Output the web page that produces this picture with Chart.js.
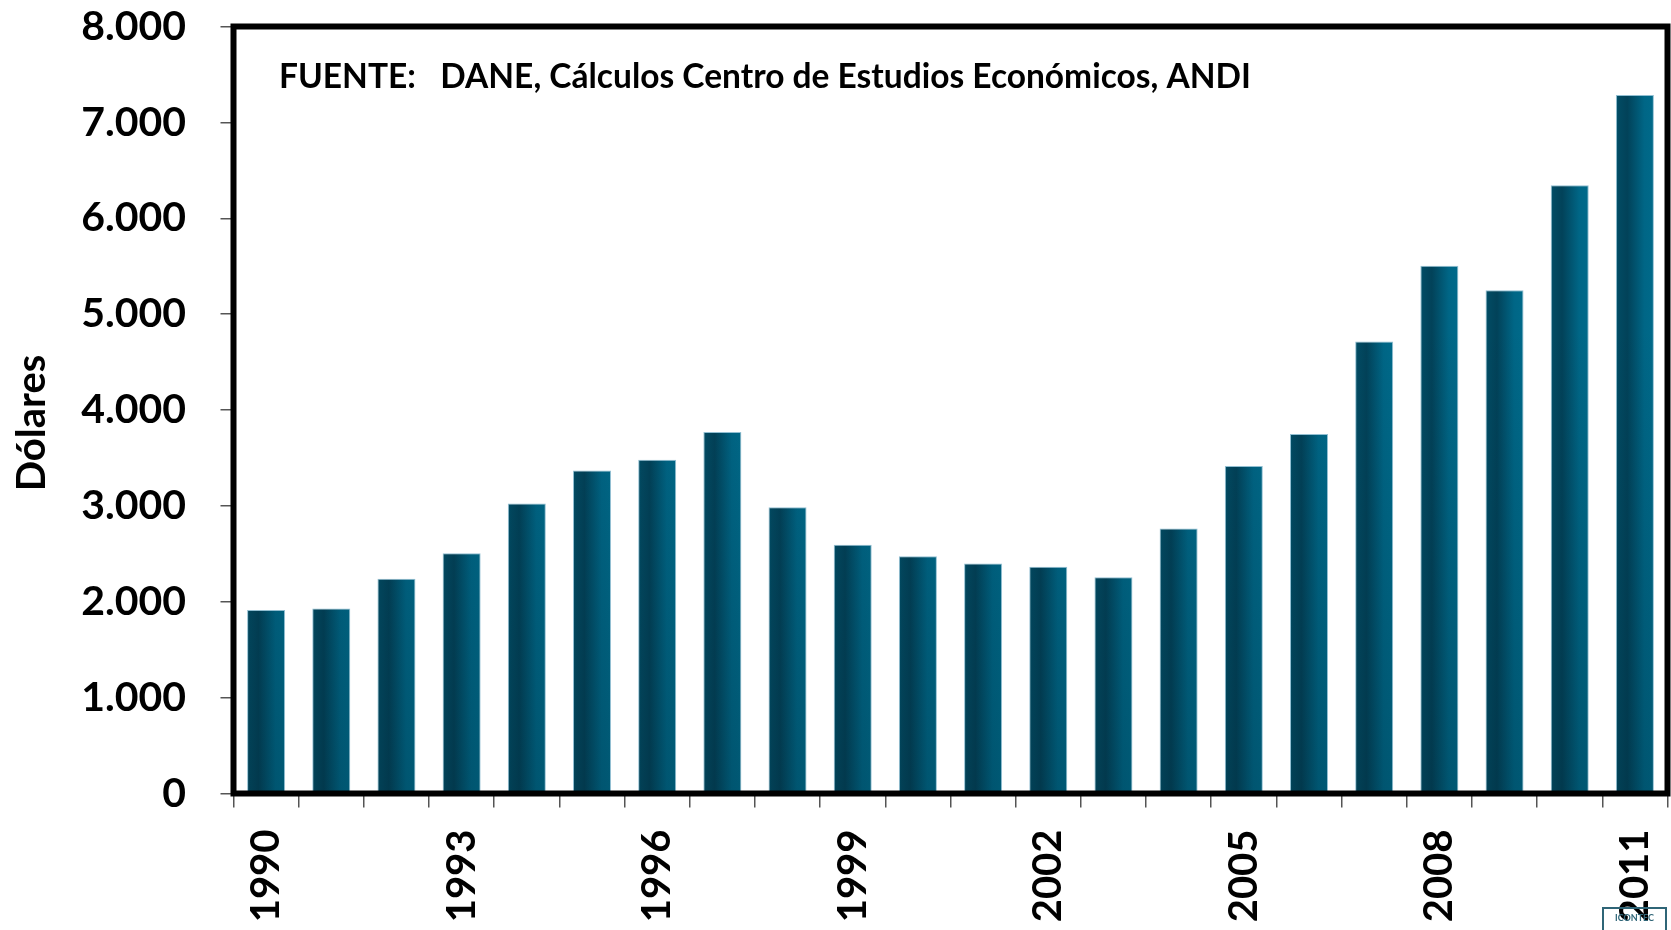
<!DOCTYPE html>
<html>
<head>
<meta charset="utf-8">
<script src="https://cdn.jsdelivr.net/npm/chart.js@4.4.0/dist/chart.umd.min.js"></script>
<style>
  html, body { margin: 0; padding: 0; background: #ffffff; }
  #wrap { width: 1671px; height: 930px; }
</style>
</head>
<body>
<div id="wrap"><canvas id="c" width="1671" height="930"></canvas></div>
<script>
const years = ['1990','1991','1992','1993','1994','1995','1996','1997','1998','1999','2000','2001','2002','2003','2004','2005','2006','2007','2008','2009','2010','2011'];
const pibPerCapita = [1915,1930,2240,2505,3025,3370,3480,3770,2985,2595,2475,2400,2365,2255,2765,3415,3750,4715,5505,5250,6345,7285];
const yTicks = [0,1000,2000,3000,4000,5000,6000,7000,8000];
const yTitle = 'Dólares';
const sourceNote = 'FUENTE:   DANE, Cálculos Centro de Estudios Económicos, ANDI';
const logoText = 'ICONTEC';

const FONT = 'Lato, "Open Sans", sans-serif';

function fmt(v) { return String(v).replace(/\B(?=(\d{3})+(?!\d))/g, '.'); }

// Shade bars: horizontal gradient per bar (from the bar element's own geometry)
const shadePlugin = {
  id: 'shade',
  beforeDatasetsDraw(chart) {
    const ctx = chart.ctx;
    chart.getDatasetMeta(0).data.forEach(el => {
      const l = el.x - el.width / 2, r = el.x + el.width / 2;
      const g = ctx.createLinearGradient(l, 0, r, 0);
      g.addColorStop(0, '#01536d');
      g.addColorStop(0.08, '#024a62');
      g.addColorStop(0.3, '#024259');
      g.addColorStop(0.75, '#006686');
      g.addColorStop(1, '#006a8a');
      el.options.backgroundColor = g;
    });
  },
  afterDatasetsDraw(chart) {
    const ctx = chart.ctx;
    const a = chart.chartArea;
    const v = ctx.createLinearGradient(0, a.top + 300, 0, a.bottom);
    v.addColorStop(0, 'rgba(0,25,35,0)');
    v.addColorStop(1, 'rgba(0,25,35,0.22)');
    ctx.save();
    ctx.fillStyle = v;
    chart.getDatasetMeta(0).data.forEach(el => {
      ctx.fillRect(el.x - el.width / 2 + 1, el.y + 1, el.width - 2, el.base - el.y - 1);
    });
    ctx.restore();
  }
};

const framePlugin = {
  id: 'frame',
  afterDraw(chart) {
    const { ctx, chartArea: a } = chart;
    ctx.save();
    ctx.lineWidth = 6;
    ctx.strokeStyle = '#000';
    ctx.strokeRect(a.left, a.top, a.right - a.left, a.bottom - a.top);

    ctx.fillStyle = '#000';
    let size = 29;
    ctx.font = 'bold ' + size + 'px ' + FONT;
    const w = ctx.measureText(sourceNote).width;
    const target = 972;
    size = size * target / w;
    ctx.font = 'bold ' + size.toFixed(2) + 'px ' + FONT;
    ctx.textAlign = 'left';
    ctx.textBaseline = 'alphabetic';
    ctx.fillText(sourceNote, 279, 88);

    ctx.save();
    ctx.translate(32, 423);
    ctx.rotate(-Math.PI / 2);
    ctx.font = 'bold 40px ' + FONT;
    ctx.textAlign = 'center';
    ctx.textBaseline = 'middle';
    ctx.fillText(yTitle, 0, 0);
    ctx.restore();

    ctx.lineWidth = 2;
    ctx.strokeStyle = '#2f6577';
    ctx.strokeRect(1603, 908, 63, 26);
    ctx.fillStyle = '#2f6577';
    ctx.font = 'bold 9px ' + FONT;
    ctx.textAlign = 'center';
    ctx.textBaseline = 'middle';
    ctx.fillText(logoText, 1634.5, 918);
    ctx.restore();
  }
};

new Chart(document.getElementById('c'), {
  type: 'bar',
  data: {
    labels: years,
    datasets: [{
      data: pibPerCapita,
      backgroundColor: function () { return '#005a76'; },
      borderColor: 'rgba(110,170,195,0.75)',
      borderWidth: 1,
      barPercentage: 0.583,
      categoryPercentage: 1.0
    }]
  },
  options: {
    responsive: false,
    animation: false,
    devicePixelRatio: 1,
    layout: { padding: { top: 26.5, right: 3.5, left: 0, bottom: 0 } },
    plugins: { legend: { display: false }, tooltip: { enabled: false } },
    scales: {
      x: {
        offset: true,
        grid: { display: true, drawOnChartArea: false, offset: true, tickLength: 14, color: '#555', lineWidth: 1.5 },
        border: { display: false },
        ticks: {
          autoSkip: false,
          maxRotation: 90,
          minRotation: 90,
          padding: 22,
          color: '#000',
          font: { family: FONT, size: 40, weight: 'bold' },
          callback: function (v, i) { return i % 3 === 0 ? years[i] : ''; }
        },
        afterFit: function (s) { s.height = 136.5; s.paddingLeft = 0; s.paddingRight = 0; }
      },
      y: {
        min: 0,
        max: 8000,
        afterBuildTicks: function (s) { s.ticks = yTicks.map(v => ({ value: v })); },
        grid: { display: true, drawOnChartArea: false, tickLength: 13, color: '#555', lineWidth: 1.5 },
        border: { display: false },
        ticks: {
          padding: 34.5,
          color: '#000',
          font: { family: FONT, size: 41, weight: 'bold' },
          callback: function (v) { return fmt(v); }
        },
        afterFit: function (s) { s.width = 233.5; s.paddingTop = 0; s.paddingBottom = 0; }
      }
    }
  },
  plugins: [shadePlugin, framePlugin]
});
</script>
</body>
</html>
